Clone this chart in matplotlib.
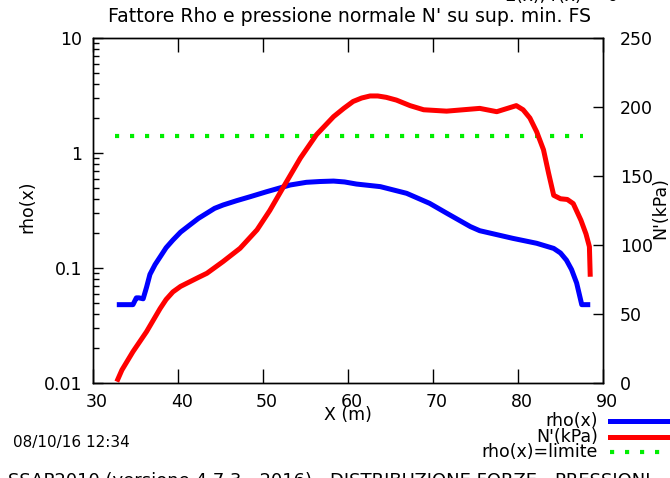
import numpy as np
import matplotlib
matplotlib.use('Agg')
import matplotlib.pyplot as plt
import matplotlib.transforms as mtransforms
from matplotlib.lines import Line2D

# rho(x) curve (log axis, left)
x_rho = [32.8, 33.5, 34.7, 35.1, 35.4, 35.9, 36.3, 36.7, 37.3, 37.9, 38.6, 39.4, 40.3,
         41.4, 42.4, 43.4, 44.3, 45.3, 46.9, 48.5, 50.4, 53.2, 55.1, 56.7, 58.3,
         59.6, 61.0, 63.8, 66.9, 69.6, 71.6, 74.4, 75.5, 79.4, 82.2, 84.2, 85.0,
         85.7, 86.3, 86.9, 87.5, 88.5]
rho = [0.048, 0.048, 0.048, 0.055, 0.055, 0.054, 0.068, 0.088, 0.107, 0.125, 0.15, 0.175, 0.205,
       0.237, 0.27, 0.30, 0.33, 0.353, 0.385, 0.417, 0.46, 0.527, 0.556, 0.565, 0.57,
       0.56, 0.537, 0.51, 0.446, 0.365, 0.30, 0.229, 0.211, 0.181, 0.164, 0.148, 0.135,
       0.117, 0.097, 0.074, 0.048, 0.048]

# N'(kPa) curve (linear axis, right)
x_n = [32.8, 33.4, 34.7, 36.3, 37.9, 38.6, 39.4, 40.3, 41.4, 42.4, 43.4, 45.3, 47.3,
       49.3, 50.8, 52.4, 54.4, 56.3, 58.3, 59.5, 60.6, 61.6, 62.6, 63.5, 64.5,
       65.7, 67.3, 68.9, 71.6, 75.5, 77.5, 79.8, 80.6, 81.4, 82.2, 83.0, 83.6,
       84.2, 85.0, 85.8, 86.5, 87.4, 88.0, 88.4, 88.5]
n_kpa = [1, 9.4, 22.7, 37.2, 54, 60.5, 66, 70, 73.4, 76.5, 79.5, 88, 97.6,
         111, 125, 142, 163, 180, 193, 199, 204, 206.5, 208, 208, 207,
         205, 201, 198, 197, 199, 196.6, 201, 198, 192, 182, 169, 152,
         136, 133.5, 133, 130, 118, 108, 98.8, 77]

rho_limite = 1.4
x_limite = [32.6, 87.7]

x_ticks = [30, 40, 50, 60, 70, 80, 90]
rho_ticks = [0.01, 0.1, 1, 10]
rho_ticklabels = ['0.01', '0.1', '1', '10']
n_ticks = [0, 50, 100, 150, 200, 250]

plt.rcParams['font.family'] = 'DejaVu Sans'
fs = 12.5
W, H = 670, 478

fig = plt.figure(figsize=(6.7, 4.78), dpi=100)
ax = fig.add_axes([93/W, 1-383/H, 510/W, 345/H])
ax2 = ax.twinx()

dots = (0, (1, 2.6))
ax.plot(x_rho, rho, color='#0000ff', lw=3.6, solid_capstyle='butt', solid_joinstyle='round')
ax.plot(x_limite, [rho_limite, rho_limite], color='#00ee00', lw=3, linestyle=dots)
ax2.plot(x_n, n_kpa, color='#ff0000', lw=3.6, solid_capstyle='butt', solid_joinstyle='round')

ax.set_yscale('log')
ax.set_xlim(30, 90)
ax.set_ylim(0.01, 10)
ax2.set_ylim(0, 250)
ax.set_xticks(x_ticks)
ax.set_yticks(rho_ticks)
ax.set_yticklabels(rho_ticklabels)
ax2.set_yticks(n_ticks)

ax.tick_params(axis='x', direction='in', top=True, length=10, width=1, labelsize=fs, pad=7)
ax.tick_params(axis='y', which='major', direction='in', length=7, width=1, labelsize=fs, pad=8)
ax.tick_params(axis='y', which='minor', direction='in', length=4, width=1)
ax2.tick_params(axis='y', direction='in', length=7, width=1, labelsize=fs, pad=12)
for a in (ax, ax2):
    for s in a.spines.values():
        s.set_linewidth(1)
        s.set_color('black')

# x tick labels sit a little right of their ticks in the reference
shift = mtransforms.ScaledTranslation(4/100, 0, fig.dpi_scale_trans)
for lbl in ax.get_xticklabels():
    lbl.set_transform(lbl.get_transform() + shift)

fig.text(348/W, 1-415/H, 'X (m)', ha='center', va='center', fontsize=fs)
fig.text(27/W, 1-207/H, 'rho(x)', ha='center', va='center', rotation=90, fontsize=fs)
fig.text(660/W, 1-208/H, "N'(kPa)", ha='center', va='center', rotation=90, fontsize=fs)

fig.text(350/W, 1-17/H, "Fattore Rho e pressione normale N' su sup. min. FS",
         ha='center', va='center', fontsize=13.6)
fig.text(562/W, 1.0 + 4/H, "Σ(x), r(x) = 0", ha='center', va='center', fontsize=fs)
fig.text(13/W, 1-442/H, "08/10/16 12:34", ha='left', va='center', fontsize=11)
fig.text(8/W, 1-472/H, "SSAP2010 (versione 4.7.3 - 2016) - DISTRIBUZIONE FORZE - PRESSIONI",
         ha='left', va='top', fontsize=13)

# legend drawn at the lower right, outside the axes
legend_labels = ['rho(x)', "N'(kPa)", 'rho(x)=limite']
legend_colors = ['#0000ff', '#ff0000', '#00ee00']
legend_rows = [421, 437, 452]
for lab, col, yp in zip(legend_labels, legend_colors, legend_rows):
    yf = 1 - yp/H
    fig.text(598/W, yf, lab, ha='right', va='center', fontsize=fs)
    if lab == 'rho(x)=limite':
        ln = Line2D([610/W, 1.0], [yf, yf], transform=fig.transFigure, color=col,
                    lw=3, linestyle=dots)
    else:
        ln = Line2D([610/W, 1.0], [yf, yf], transform=fig.transFigure, color=col, lw=3.6)
    fig.add_artist(ln)

fig.savefig('out.png', dpi=100)
